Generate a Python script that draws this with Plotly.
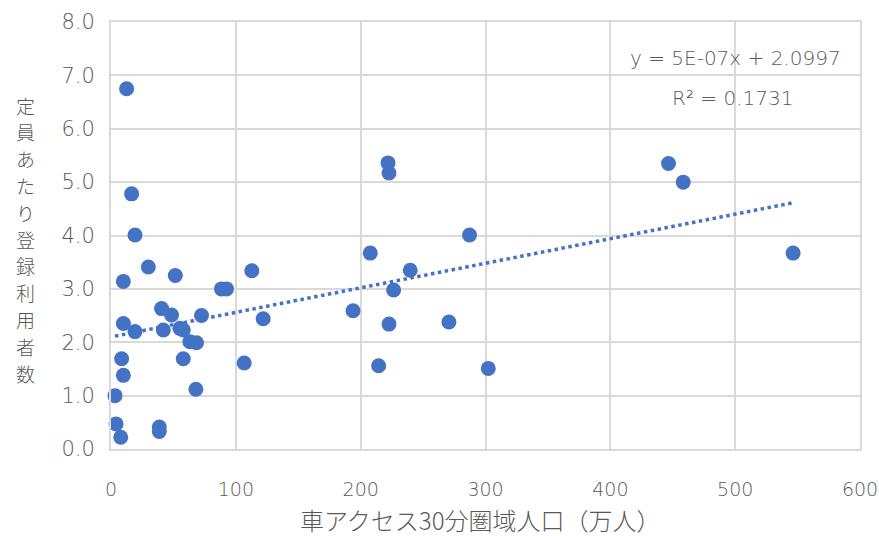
import plotly.graph_objects as go

# 車アクセス30分圏域人口（万人）
population = [29.9, 9.9, 51.5, 112.8, 88.5, 92.5, 40.5, 48.5, 72.5, 121.9,
              9.9, 19.2, 41.9, 55.2, 57.9, 63.2, 68.5, 8.5, 57.9, 106.7,
              9.9, 68.0, 3.2, 4.0, 38.7, 38.7, 7.8, 12.5, 16.5, 19.2,
              221.9, 222.7, 287.2, 207.7, 239.7, 226.4, 193.9, 222.7, 270.7, 214.4,
              302.2, 446.6, 458.4, 546.4]
# 定員あたり登録利用者数
users_per_capacity = [3.41, 3.14, 3.25, 3.34, 3.0, 3.0, 2.63, 2.51, 2.50, 2.44,
                      2.35, 2.20, 2.23, 2.26, 2.23, 2.01, 1.99, 1.69, 1.69, 1.61,
                      1.38, 1.12, 1.0, 0.47, 0.41, 0.33, 0.22, 6.75, 4.78, 4.01,
                      5.36, 5.17, 4.01, 3.67, 3.35, 2.98, 2.59, 2.34, 2.38, 1.56,
                      1.51, 5.35, 5.0, 3.67]

# linear trend (x in persons): y = slope * x + intercept
trend_slope = 4.6e-7
trend_intercept = 2.0997
trend_r2 = 0.1731

x_ticks = [0, 100, 200, 300, 400, 500, 600]
y_ticks = [0, 1, 2, 3, 4, 5, 6, 7, 8]

x_title = "車アクセス30分圏域人口（万人）"
y_title = "定員あたり登録利用者数"

CJK = "Noto Sans CJK JP, Noto Sans, sans-serif"
LAT = "DejaVu Sans, Noto Sans, sans-serif"
TXT = "#595959"
BLUE = "#4472C4"
GRID = "#d9d9d9"

W, H = 879, 536
M = dict(l=111, r=19, t=22, b=87)
plot_w = W - M["l"] - M["r"]
plot_h = H - M["t"] - M["b"]

x_min, x_max = min(population), max(population)
trend_x = [x_min, x_max]
trend_y = [trend_slope * v * 1e4 + trend_intercept for v in trend_x]

fig = go.Figure()
fig.add_trace(go.Scatter(
    x=population, y=users_per_capacity, mode="markers",
    marker=dict(size=15, color=BLUE), showlegend=False, cliponaxis=False,
))
fig.add_trace(go.Scatter(
    x=trend_x, y=trend_y, mode="lines",
    line=dict(color=BLUE, width=3.5, dash="dot"), showlegend=False,
))

# vertical y-axis title: one upright character per line
annotations = []
char_pitch = 26.8
center_px = 239  # from top of page
n = len(y_title)
for i, ch in enumerate(y_title):
    y_px = center_px + (i - (n - 1) / 2) * char_pitch
    annotations.append(dict(
        text=ch, xref="paper", yref="paper",
        x=(25 - M["l"]) / plot_w,
        y=(H - M["b"] - y_px) / plot_h,
        xanchor="center", yanchor="middle", showarrow=False,
        font=dict(size=19, color=TXT, family=CJK, weight=300),
    ))

# x-axis title
annotations.append(dict(
    text=x_title, xref="paper", yref="paper",
    x=(480 - M["l"]) / plot_w, y=-(519 - (H - M["b"])) / plot_h,
    xanchor="center", yanchor="middle", showarrow=False,
    font=dict(size=24, color=TXT, family=CJK, weight=300),
))

annotations += [
    dict(text="y = 5E-07x + 2.0997", xref="x", yref="y",
         x=500, y=7.32, xanchor="center", yanchor="middle",
         showarrow=False, font=dict(size=20, color=TXT, family=LAT, weight=300)),
    dict(text=f"R² = {trend_r2}", xref="x", yref="y",
         x=498, y=6.58, xanchor="center", yanchor="middle",
         showarrow=False, font=dict(size=20, color=TXT, family=LAT, weight=300)),
]

fig.update_layout(
    width=W, height=H,
    margin=M,
    paper_bgcolor="white", plot_bgcolor="white",
    font=dict(family=LAT, color=TXT),
    xaxis=dict(
        range=[0, 600], tickvals=x_ticks, ticktext=[str(v) for v in x_ticks],
        showgrid=True, gridcolor=GRID, gridwidth=2,
        showline=True, linecolor=GRID, linewidth=2, mirror=True,
        zeroline=False, ticks="", ticklabelstandoff=22, automargin=False,
        ticklabeloverflow="allow",
        tickfont=dict(size=19, color=TXT, family=LAT, weight=300),
    ),
    yaxis=dict(
        range=[0, 8], tickvals=y_ticks, ticktext=[f"{v:.1f}" for v in y_ticks],
        showgrid=True, gridcolor=GRID, gridwidth=2,
        showline=True, linecolor=GRID, linewidth=2, mirror=True,
        zeroline=False, ticks="", ticklabelstandoff=10, automargin=False,
        tickfont=dict(size=21, color=TXT, family=LAT, weight=300),
    ),
    annotations=annotations,
)

fig.write_html("out.html")
